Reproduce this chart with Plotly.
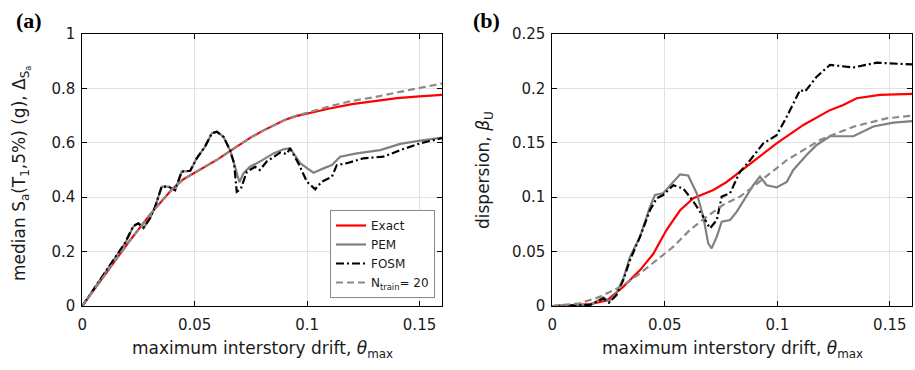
import plotly.graph_objects as go

# ---------------- Panel (a): median Sa vs drift ----------------
x_exact_a = [0, 0.01, 0.02, 0.03, 0.04, 0.045, 0.05, 0.055, 0.06, 0.065, 0.07, 0.075,
             0.08, 0.085, 0.09, 0.095, 0.1, 0.11, 0.12, 0.13, 0.14, 0.15, 0.16]
y_exact_a = [0, 0.114, 0.228, 0.335, 0.43, 0.466, 0.49, 0.512, 0.538, 0.566, 0.594, 0.62,
             0.643, 0.664, 0.684, 0.698, 0.708, 0.726, 0.742, 0.754, 0.764, 0.771, 0.776]

x_ntrain_a = [0, 0.01, 0.02, 0.03, 0.04, 0.045, 0.05, 0.055, 0.06, 0.065, 0.07, 0.075,
              0.08, 0.085, 0.09, 0.095, 0.1, 0.11, 0.12, 0.13, 0.14, 0.15, 0.16]
y_ntrain_a = [0, 0.114, 0.228, 0.335, 0.43, 0.466, 0.49, 0.512, 0.538, 0.566, 0.594, 0.62,
              0.643, 0.664, 0.684, 0.699, 0.711, 0.734, 0.754, 0.768, 0.785, 0.801, 0.818]

x_pem_a = [0, 0.0079, 0.0138, 0.019, 0.0227, 0.0249, 0.0272, 0.0301, 0.0324, 0.0353, 0.0383,
           0.0413, 0.0442, 0.048, 0.0509, 0.0546, 0.0576, 0.0598, 0.0628, 0.0657, 0.0675,
           0.0699, 0.0717, 0.0746, 0.079, 0.085, 0.0895, 0.0924, 0.0969, 0.1028, 0.1073,
           0.111, 0.1147, 0.1221, 0.1325, 0.1414, 0.1503, 0.16]
y_pem_a = [0, 0.096, 0.169, 0.23, 0.292, 0.304, 0.286, 0.322, 0.365, 0.439, 0.439,
           0.426, 0.494, 0.497, 0.543, 0.586, 0.635, 0.641, 0.622, 0.573, 0.525,
           0.455, 0.488, 0.512, 0.531, 0.561, 0.576, 0.58, 0.525, 0.49, 0.506,
           0.518, 0.549, 0.561, 0.573, 0.596, 0.608, 0.619]

x_fosm_a = [0, 0.0079, 0.0138, 0.019, 0.0227, 0.0249, 0.0272, 0.0301, 0.0324, 0.0353, 0.0383,
            0.0413, 0.0442, 0.048, 0.0509, 0.0546, 0.0576, 0.0598, 0.0628, 0.0657, 0.0675,
            0.0687, 0.0705, 0.0732, 0.0769, 0.079, 0.082, 0.085, 0.088, 0.091, 0.0924,
            0.0961, 0.0999, 0.1036, 0.1065, 0.111, 0.1132, 0.1177, 0.125, 0.134, 0.1414,
            0.1503, 0.16]
y_fosm_a = [0, 0.098, 0.172, 0.232, 0.294, 0.304, 0.288, 0.322, 0.365, 0.439, 0.439,
            0.426, 0.494, 0.497, 0.543, 0.586, 0.635, 0.641, 0.622, 0.573, 0.525,
            0.42, 0.43, 0.494, 0.512, 0.50, 0.531, 0.549, 0.564, 0.559, 0.58,
            0.525, 0.457, 0.429, 0.457, 0.475, 0.518, 0.525, 0.543, 0.549, 0.573,
            0.598, 0.617]

# ---------------- Panel (b): dispersion vs drift ----------------
x_exact_b = [0, 0.008, 0.0168, 0.0242, 0.0316, 0.039, 0.0449, 0.0508, 0.0568, 0.0627, 0.0716,
             0.0775, 0.0864, 0.0997, 0.1116, 0.1234, 0.1293, 0.1353, 0.1456, 0.16]
y_exact_b = [0, 0.001, 0.0018, 0.005, 0.0178, 0.033, 0.048, 0.07, 0.088, 0.099, 0.1066,
             0.114, 0.128, 0.1495, 0.1664, 0.180, 0.1847, 0.191, 0.194, 0.195]

x_ntrain_b = [0, 0.0123, 0.0212, 0.0316, 0.039, 0.0464, 0.0538, 0.0612, 0.0686, 0.076,
              0.0834, 0.0893, 0.1042, 0.119, 0.1338, 0.1486, 0.16]
y_ntrain_b = [0, 0.0025, 0.0086, 0.019, 0.030, 0.042, 0.0545, 0.07, 0.082, 0.093,
              0.1005, 0.1097, 0.134, 0.1526, 0.1648, 0.1725, 0.175]

x_pem_b = [0, 0.0168, 0.0227, 0.0252, 0.0285, 0.0316, 0.0345, 0.039, 0.0434, 0.0456, 0.0493,
           0.0538, 0.0568, 0.0604, 0.0642, 0.0671, 0.0693, 0.0708, 0.0731, 0.0753, 0.079,
           0.082, 0.0864, 0.0893, 0.0923, 0.0953, 0.0997, 0.1042, 0.1071, 0.1131, 0.1175,
           0.1234, 0.1338, 0.1427, 0.1516, 0.16]
y_pem_b = [0, 0.001, 0.008, 0.004, 0.012, 0.0255, 0.045, 0.0637, 0.091, 0.102, 0.1036,
           0.114, 0.121, 0.12, 0.1036, 0.082, 0.0576, 0.053, 0.0637, 0.0775, 0.079,
           0.0867, 0.102, 0.111, 0.119, 0.111, 0.109, 0.114, 0.125, 0.139, 0.148,
           0.156, 0.156, 0.165, 0.1685, 0.170]

x_fosm_b = [0, 0.0168, 0.0227, 0.0252, 0.0285, 0.0316, 0.0345, 0.039, 0.0434, 0.0464, 0.0493,
            0.0538, 0.0582, 0.0627, 0.0671, 0.0701, 0.0731, 0.0753, 0.079, 0.0834, 0.0879,
            0.0938, 0.0997, 0.1042, 0.1101, 0.1123, 0.1175, 0.1234, 0.1338, 0.1442, 0.16]
y_fosm_b = [0, 0.001, 0.007, 0.003, 0.01, 0.024, 0.042, 0.0637, 0.088, 0.099, 0.102,
            0.111, 0.108, 0.096, 0.082, 0.0714, 0.079, 0.1005, 0.1036, 0.1234, 0.134,
            0.1495, 0.157, 0.174, 0.1985, 0.197, 0.2108, 0.2215, 0.2193, 0.2236, 0.222]

# ---------------- tick labels ----------------
x_ticks = [0, 0.05, 0.1, 0.15]
x_ticktext = ["0", "0.05", "0.1", "0.15"]
ya_ticks = [0, 0.2, 0.4, 0.6, 0.8, 1.0]
ya_ticktext = ["0", "0.2", "0.4", "0.6", "0.8", "1"]
yb_ticks = [0, 0.05, 0.1, 0.15, 0.2, 0.25]
yb_ticktext = ["0", "0.05", "0.1", "0.15", "0.2", "0.25"]

RED = "#ff0000"
GRAY = "#808080"
GRAY_D = "#8a8a8a"
BLACK = "#000000"
FONT = "DejaVu Sans, Liberation Sans, Arial, sans-serif"
TXT = "#1a1a1a"

fig = go.Figure()

def add_panel(xa, ya, data, showlegend):
    (xe, ye), (xp, yp), (xf, yf), (xn, yn) = data
    fig.add_trace(go.Scatter(x=xe, y=ye, mode="lines", name="Exact",
                             line=dict(color=RED, width=2.2),
                             xaxis=xa, yaxis=ya, showlegend=showlegend, legendrank=1))
    fig.add_trace(go.Scatter(x=xp, y=yp, mode="lines", name="PEM",
                             line=dict(color=GRAY, width=2.2),
                             xaxis=xa, yaxis=ya, showlegend=showlegend, legendrank=2))
    fig.add_trace(go.Scatter(x=xf, y=yf, mode="lines", name="FOSM",
                             line=dict(color=BLACK, width=2.2, dash="8px,3px,2px,3px"),
                             xaxis=xa, yaxis=ya, showlegend=showlegend, legendrank=3))
    fig.add_trace(go.Scatter(x=xn, y=yn, mode="lines", name="N<sub>train</sub>= 20",
                             line=dict(color=GRAY_D, width=2.2, dash="7px,4px"),
                             xaxis=xa, yaxis=ya, showlegend=showlegend, legendrank=4))

add_panel("x", "y", [(x_exact_a, y_exact_a), (x_pem_a, y_pem_a),
                     (x_fosm_a, y_fosm_a), (x_ntrain_a, y_ntrain_a)], True)
add_panel("x2", "y2", [(x_exact_b, y_exact_b), (x_pem_b, y_pem_b),
                       (x_fosm_b, y_fosm_b), (x_ntrain_b, y_ntrain_b)], False)

W, H = 915, 370
L1, R1 = 82.3, 442.0
L2, R2 = 552.3, 912.3
TOP, BOT = 34.0, 306.0

axis_common = dict(
    showline=True, linecolor="black", linewidth=1, mirror="ticks",
    ticks="inside", ticklen=5, tickcolor="black", tickwidth=1,
    showgrid=True, gridcolor="#e2e2e2", gridwidth=1, zeroline=False,
    automargin=False,
    tickfont=dict(family=FONT, size=15, color=TXT),
)

fig.update_layout(
    template="none",
    width=W, height=H, autosize=False,
    margin=dict(l=0, r=0, t=0, b=0, pad=0),
    paper_bgcolor="white", plot_bgcolor="white",
    font=dict(family=FONT, size=15, color=TXT),
    xaxis=dict(domain=[L1 / W, R1 / W], range=[0, 0.16], tickvals=x_ticks,
               ticktext=x_ticktext, anchor="y", ticklabelstandoff=5, **axis_common),
    yaxis=dict(domain=[1 - BOT / H, 1 - TOP / H], range=[0, 1], tickvals=ya_ticks,
               ticktext=ya_ticktext, anchor="x", ticklabelstandoff=3, **axis_common),
    xaxis2=dict(domain=[L2 / W, R2 / W], range=[0, 0.16], tickvals=x_ticks,
                ticktext=x_ticktext, anchor="y2", ticklabelstandoff=5, **axis_common),
    yaxis2=dict(domain=[1 - BOT / H, 1 - TOP / H], range=[0, 0.25], tickvals=yb_ticks,
                ticktext=yb_ticktext, anchor="x2", ticklabelstandoff=3, **axis_common),
    legend=dict(x=435 / W, y=1 - 298 / H, xanchor="right", yanchor="bottom",
                bgcolor="white", bordercolor="#888888", borderwidth=1,
                font=dict(family=FONT, size=12, color=TXT),
                tracegroupgap=0, itemwidth=30),
)

ann = []
SERIF = "Liberation Serif, Times New Roman, serif"
ann.append(dict(text="<b>(a)</b>", x=14 / W, y=1 - 20 / H, xref="paper", yref="paper",
                xanchor="left", yanchor="middle", showarrow=False,
                font=dict(family=SERIF, size=22, color="black")))
ann.append(dict(text="<b>(b)</b>", x=471 / W, y=1 - 20 / H, xref="paper", yref="paper",
                xanchor="left", yanchor="middle", showarrow=False,
                font=dict(family=SERIF, size=22, color="black")))
xt = "maximum interstory drift, <i>θ</i><sub>max</sub>"
ann.append(dict(text=xt, x=(L1 + R1) / 2 / W, y=1 - 349 / H, xref="paper", yref="paper",
                xanchor="center", yanchor="middle", showarrow=False,
                font=dict(family=FONT, size=17, color=TXT)))
ann.append(dict(text=xt, x=(L2 + R2) / 2 / W, y=1 - 349 / H, xref="paper", yref="paper",
                xanchor="center", yanchor="middle", showarrow=False,
                font=dict(family=FONT, size=17, color=TXT)))
ann.append(dict(text="median S<sub>a</sub>(T<sub>1</sub>,5%) (g), Δ<sub>S<sub>a</sub></sub>",
                x=21 / W, y=1 - 174 / H, xref="paper", yref="paper", textangle=-90,
                xanchor="center", yanchor="middle", showarrow=False,
                font=dict(family=FONT, size=17, color=TXT)))
ann.append(dict(text="dispersion, <i>β</i><sub>U</sub>",
                x=484 / W, y=1 - 170 / H, xref="paper", yref="paper", textangle=-90,
                xanchor="center", yanchor="middle", showarrow=False,
                font=dict(family=FONT, size=17, color=TXT)))
fig.update_layout(annotations=ann)

fig.write_html("out.html")
